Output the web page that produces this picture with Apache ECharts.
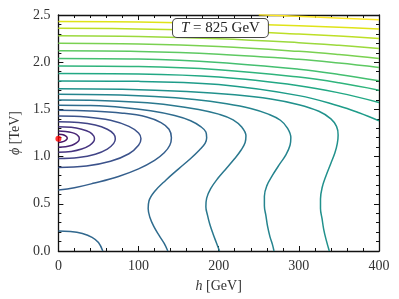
<!DOCTYPE html>
<html><head><meta charset="utf-8">
<script src="https://cdn.jsdelivr.net/npm/echarts@6/dist/echarts.min.js"></script>
<style>html,body{margin:0;padding:0;background:#fff}#c{width:399px;height:299px}</style>
</head><body><div id="c"></div>
<script>
const xTicks = [0, 100, 200, 300, 400];
const yTicks = [0.0, 0.5, 1.0, 1.5, 2.0, 2.5];
const minimum = [[0, 1.19]];
// contour lines, points [h GeV, phi TeV]
const ring1 = [[0,1.236],[4,1.234],[7.5,1.226],[10,1.212],[11,1.195],[10,1.178],[7.5,1.164],[4,1.154],[0,1.15]];
const ring2 = [[0,1.27],[9,1.266],[17,1.254],[22.5,1.235],[25.5,1.21],[26,1.19],[25.5,1.17],[22.5,1.145],[17,1.12],[9,1.105],[0,1.10]];
const ring3 = [[0,1.315],[16,1.31],[29,1.29],[39,1.26],[44,1.22],[45,1.19],[44,1.16],[39,1.12],[29,1.08],[16,1.055],[0,1.045]];
const ring4 = [[0,1.37],[25,1.362],[46,1.335],[61,1.29],[69,1.24],[71,1.19],[69,1.14],[61,1.08],[46,1.025],[25,0.99],[0,0.98]];
const ring5 = [[0,1.43],[35,1.42],[65,1.385],[88,1.32],[100,1.25],[103,1.19],[100,1.12],[88,1.03],[65,0.95],[35,0.9],[0,0.884]];
const ringA = [[0,1.49],[40,1.483],[80,1.46],[110,1.42],[128,1.36],[138,1.29],[141,1.2],[139,1.12],[132,1.04],[120,0.96],[100,0.87],[75,0.79],[45,0.72],[20,0.67],[0,0.647]];
const originArc = [[0,0.212],[15,0.207],[30,0.185],[42,0.145],[50,0.09],[55.4,0]];
const lineB = [[0,1.545],[40,1.54],[80,1.52],[115,1.485],[145,1.435],[165,1.38],[178,1.315],[184,1.26],[185,1.2],[183,1.14],[176,1.07],[165,0.98],[150,0.87],[134,0.75],[120,0.63],[113,0.53],[112,0.45],[114,0.36],[119,0.26],[126,0.16],[132,0.08],[136.5,0]];
const lineC = [[0,1.60],[50,1.595],[100,1.575],[140,1.545],[175,1.50],[200,1.45],[218,1.39],[229,1.31],[234,1.22],[233,1.15],[228,1.07],[220,0.98],[210,0.88],[199,0.77],[190,0.66],[185,0.56],[184,0.47],[186,0.38],[189,0.28],[193,0.18],[197,0.09],[201,0]];
const lineD = [[0,1.66],[60,1.655],[120,1.637],[170,1.605],[210,1.56],[240,1.51],[262,1.45],[277,1.385],[286,1.3],[290,1.2],[289,1.12],[284,1.02],[276,0.92],[267,0.8],[260,0.69],[257,0.58],[257,0.48],[259,0.37],[261,0.26],[264,0.15],[267,0.07],[269,0]];
const lineE = [[0,1.72],[80,1.714],[160,1.69],[220,1.655],[265,1.61],[300,1.55],[325,1.48],[340,1.40],[347,1.32],[349,1.23],[348,1.14],[345,1.04],[340,0.93],[334,0.8],[329,0.67],[327,0.55],[327,0.45],[329,0.34],[331,0.23],[334,0.12],[338,0]];
const line9 = [[0,1.80],[100,1.797],[200,1.763],[300,1.646],[350,1.536],[375,1.464],[400,1.379]];
const line8 = [[0,1.88],[100,1.875],[200,1.842],[300,1.751],[350,1.675],[400,1.574]];
const line7 = [[0,1.96],[100,1.954],[200,1.921],[300,1.842],[350,1.782],[400,1.704]];
const line6 = [[0,2.04],[100,2.033],[200,1.998],[300,1.925],[350,1.87],[400,1.803]];
const line5 = [[0,2.12],[100,2.113],[200,2.084],[300,2.03],[350,1.991],[400,1.945]];
const line4 = [[0,2.20],[100,2.192],[200,2.165],[300,2.115],[350,2.081],[400,2.04]];
const line3 = [[0,2.28],[100,2.273],[200,2.249],[300,2.207],[350,2.179],[400,2.146]];
const line2 = [[0,2.36],[100,2.353],[200,2.333],[300,2.299],[350,2.277],[400,2.252]];
const line1 = [[0,2.43],[100,2.425],[200,2.41],[300,2.386],[350,2.37],[400,2.351]];
const lineT = [[250,2.502],[320,2.478],[400,2.45]];

const contours = [
  [ring1,'#471365'],[ring2,'#482475'],[ring3,'#463480'],[ring4,'#414487'],[ring5,'#3b528b'],
  [ringA,'#355f8d'],[originArc,'#31688e'],[lineB,'#2f6c8e'],[lineC,'#2a788e'],[lineD,'#25848e'],
  [lineE,'#21918c'],[line9,'#1e9c89'],[line8,'#22a884'],[line7,'#2fb47c'],[line6,'#44bf70'],
  [line5,'#5ec962'],[line4,'#7ad151'],[line3,'#9bd93c'],[line2,'#bddf26'],[line1,'#dfe318'],[lineT,'#fde725']
];

const serif = '"Liberation Serif", "DejaVu Serif", serif';
const chart = echarts.init(document.getElementById('c'));
const axisCommon = {
  min: 0, axisLine:{show:true, onZero:false, lineStyle:{color:'#111', width:1.3}},
  axisTick:{show:true, inside:true, length:5, lineStyle:{color:'#111'}},
  minorTick:{show:true, splitNumber:5, length:3, lineStyle:{color:'#111'}},
  splitLine:{show:false}
};
const series = contours.map(([d,c]) => ({
  type:'line', data:d, smooth:0.4, showSymbol:false, clip:true,
  lineStyle:{color:c, width:1.5}, silent:true, z:2
}));
series.push({type:'scatter', data:minimum, symbolSize:6, itemStyle:{color:'#ff0000'}, z:3, clip:true});
chart.setOption({
  animation:false,
  grid:{left:55, right:20, top:15, bottom:48},
  xAxis:[
    Object.assign({}, axisCommon, {type:'value', max:400, interval:100, position:'bottom',
      axisLabel:{show:true, color:'#333', fontFamily:serif, fontSize:14, margin:8, formatter:v=>xTicks.includes(v)?String(v):''},
      name:'{i|h} [GeV]', nameLocation:'middle', nameGap:28,
      nameTextStyle:{fontFamily:serif, fontSize:14, color:'#333', rich:{i:{fontStyle:'italic', fontFamily:serif, fontSize:14, color:'#333'}}}}),
    Object.assign({}, axisCommon, {type:'value', max:400, interval:100, position:'top', axisLabel:{show:false}})
  ],
  yAxis:[
    Object.assign({}, axisCommon, {type:'value', max:2.5, interval:0.5, position:'left',
      axisLabel:{show:true, color:'#333', fontFamily:serif, fontSize:14, margin:8, formatter:v=>v.toFixed(1)},
      name:'{i|ϕ} [TeV]', nameLocation:'middle', nameGap:33, nameRotate:90,
      nameTextStyle:{fontFamily:serif, fontSize:14, color:'#333', rich:{i:{fontStyle:'italic', fontFamily:serif, fontSize:14, color:'#333'}}}}),
    Object.assign({}, axisCommon, {type:'value', max:2.5, interval:0.5, position:'right', axisLabel:{show:false}})
  ],
  graphic:[{
    type:'text', left:172, top:18, z:10,
    style:{text:'{i|T} = 825 GeV', fontFamily:serif, fontSize:15, fill:'#222', lineHeight:16,
      backgroundColor:'#fff', borderColor:'#444', borderWidth:1, borderRadius:4, padding:[1,8,1,8],
      rich:{i:{fontStyle:'italic', fontFamily:serif, fontSize:15, fill:'#222', lineHeight:16}}}
  }],
  series: series
});
</script></body></html>
